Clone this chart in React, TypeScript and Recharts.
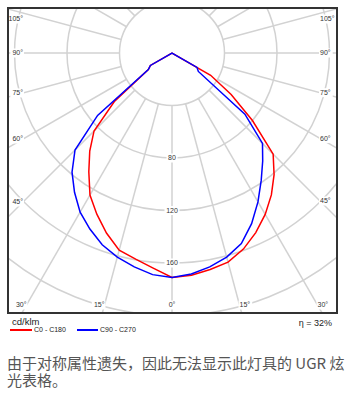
import React from "react";
import { RadarChart, Radar, PolarGrid, PolarAngleAxis, PolarRadiusAxis } from "recharts";

// luminous intensity in cd/klm, gamma 0° (down) .. 180° (up), 5° steps
const gammaAngles = [0, 5, 10, 15, 20, 25, 30, 35, 40, 45, 50, 55, 60, 65, 70, 75, 80, 85, 90, 95, 100, 105, 110, 115, 120, 125, 130, 135, 140, 145, 150, 155, 160, 165, 170, 175, 180];
const c0 = [171, 170, 167.5, 165, 159, 151, 142, 132, 121, 109, 80, 55, 34, 0, 0, 0, 0, 0, 0, 0, 0, 0, 0, 0, 0, 0, 0, 0, 0, 0, 0, 0, 0, 0, 0, 0, 0];
const c180 = [171, 164.5, 159.5, 155.5, 146, 135.5, 125, 110.5, 97.5, 84, 57, 22, 19, 0, 0, 0, 0, 0, 0, 0, 0, 0, 0, 0, 0, 0, 0, 0, 0, 0, 0, 0, 0, 0, 0, 0, 0];
const c90 = [171, 169, 165.5, 161, 154.5, 143.5, 131, 118.5, 107.5, 97.5, 72.5, 24.5, 22, 0, 0, 0, 0, 0, 0, 0, 0, 0, 0, 0, 0, 0, 0, 0, 0, 0, 0, 0, 0, 0, 0, 0, 0];
const c270 = [171, 169.5, 165.5, 161, 155.5, 148, 140, 129.5, 118.5, 104.5, 74, 22, 19, 0, 0, 0, 0, 0, 0, 0, 0, 0, 0, 0, 0, 0, 0, 0, 0, 0, 0, 0, 0, 0, 0, 0, 0];

// grid: spokes every 15°, rings every 40 cd/klm
const gridAngles = [0, 15, 30, 45, 60, 75, 90, 105, 120, 135, 150, 165, 180, 195, 210, 225, 240, 255, 270, 285, 300, 315, 330, 345];
const radiusLabels = [80, 120, 160];
const maxAngleLabel = 105;

// position around the diagram, counter-clockwise from the bottom:
// right half is C0 / C90, left half is C180 / C270
const positions = gammaAngles.concat(gammaAngles.slice(1, -1).map((g) => 360 - g).reverse());
const data = positions.map((p) => {
  const right = p <= 180;
  const i = gammaAngles.indexOf(right ? p : 360 - p);
  return { p, red: right ? c0[i] : c180[i], blue: right ? c90[i] : c270[i] };
});
const gridData = gridAngles.map((a) => ({ a, base: 40 }));

const W = 327;
const H = 303;
const CX = 163;
const CY = 44;
const R_IN = 52.5;
const R_OUT = 315;

// label frame inside the box
const LBL_LEFT = 14;
const LBL_RIGHT = 311;
const LBL_TOP = 10;
const LBL_BOTTOM = 296;

const tickFont = "'Liberation Sans', Arial, sans-serif";

function AngleTick(props: any) {
  const p = Number(props.payload?.value);
  const g = p <= 180 ? p : 360 - p;
  if (g > maxAngleLabel) return <g />;
  const side = p === 0 ? 0 : p < 180 ? 1 : -1;
  const rad = (g * Math.PI) / 180;
  const s = Math.sin(rad);
  const c = Math.cos(rad);
  let t = Infinity;
  if (side === 1) t = Math.min(t, (LBL_RIGHT - CX) / s);
  if (side === -1) t = Math.min(t, (CX - LBL_LEFT) / s);
  if (c > 0) t = Math.min(t, (LBL_BOTTOM - CY) / c);
  const x = CX + side * s * t;
  const y = Math.max(LBL_TOP, CY + c * t);
  const label = `${g}°`;
  const w = label.length * 3.9 + 2;
  const anchor = side === 0 ? "middle" : side === 1 ? "start" : "end";
  const rx = side === 0 ? x - w / 2 : side === 1 ? x - 1 : x - w + 1;
  return (
    <g>
      <rect x={rx} y={y - 4.5} width={w} height={9} fill="#fff" />
      <text x={x} y={y} dy="0.35em" textAnchor={anchor} fontSize={7} fontFamily={tickFont} fill="#333">
        {label}
      </text>
    </g>
  );
}

function RadiusTick(props: any) {
  const v = props.payload?.value;
  if (!radiusLabels.includes(v)) return <g />;
  const label = String(v);
  const w = label.length * 4 + 3;
  return (
    <g>
      <rect x={props.x - w / 2} y={props.y - 4.5} width={w} height={9} fill="#fff" />
      <text x={props.x} y={props.y} dy="0.35em" textAnchor="middle" fontSize={7} fontFamily={tickFont} fill="#333">
        {label}
      </text>
    </g>
  );
}

export default function App() {
  return (
    <div style={{ position: "absolute", left: 0, top: 0, width: 353, height: 398, background: "#fff" }}>
      <div
        style={{
          position: "absolute",
          left: 7,
          top: 7,
          width: W,
          height: H,
          border: "2px solid #333",
          overflow: "hidden",
          background: "#fff",
        }}
      >
        {/* grid layer */}
        <div style={{ position: "absolute", left: 0, top: 0 }}>
          <RadarChart
            width={W}
            height={H}
            data={gridData}
            cx={CX}
            cy={CY}
            innerRadius={R_IN}
            outerRadius={R_OUT}
            startAngle={-90}
            endAngle={270}
            margin={{ top: 0, right: 0, bottom: 0, left: 0 }}
          >
            <PolarGrid gridType="circle" stroke="#d2d2d2" strokeWidth={1.5} />
            <PolarAngleAxis
              dataKey="a"
              type="number"
              domain={[0, 360]}
              ticks={gridAngles}
              tick={AngleTick}
              axisLine={false}
              tickLine={false}
            />
            <PolarRadiusAxis angle={-90} domain={[40, 240]} tickCount={6} tick={RadiusTick} axisLine={false} tickLine={false} />
            <Radar dataKey="base" stroke="none" fill="none" dot={false} isAnimationActive={false} />
          </RadarChart>
        </div>
        {/* curves layer */}
        <div style={{ position: "absolute", left: 0, top: 0 }}>
          <RadarChart
            width={W}
            height={H}
            data={data}
            cx={CX}
            cy={CY}
            innerRadius={0}
            outerRadius={R_OUT}
            startAngle={-90}
            endAngle={270}
            margin={{ top: 0, right: 0, bottom: 0, left: 0 }}
          >
            <PolarAngleAxis dataKey="p" type="number" domain={[0, 360]} tick={false} axisLine={false} tickLine={false} />
            <PolarRadiusAxis domain={[0, 240]} tick={false} axisLine={false} tickLine={false} />
            <Radar dataKey="red" stroke="#ff0000" strokeWidth={1.5} fill="none" fillOpacity={0} dot={false} isAnimationActive={false} />
            <Radar dataKey="blue" stroke="#0000ff" strokeWidth={1.5} fill="none" fillOpacity={0} dot={false} isAnimationActive={false} />
          </RadarChart>
        </div>
      </div>

      <div style={{ position: "absolute", left: 12, top: 317, fontFamily: tickFont, fontSize: 9.5, lineHeight: "10px", color: "#222" }}>
        cd/klm
      </div>
      <div style={{ position: "absolute", left: 10, top: 329, width: 22, height: 2, background: "#ff0000" }} />
      <div style={{ position: "absolute", left: 34, top: 326, fontFamily: tickFont, fontSize: 7, lineHeight: "8px", color: "#222" }}>
        C0 - C180
      </div>
      <div style={{ position: "absolute", left: 77, top: 329, width: 21, height: 2, background: "#0000ff" }} />
      <div style={{ position: "absolute", left: 100, top: 326, fontFamily: tickFont, fontSize: 7, lineHeight: "8px", color: "#222" }}>
        C90 - C270
      </div>
      <div
        style={{
          position: "absolute",
          right: 21,
          top: 318,
          fontFamily: tickFont,
          fontSize: 9,
          lineHeight: "10px",
          color: "#222",
          whiteSpace: "nowrap",
        }}
      >
        η = 32%
      </div>

      <div
        style={{
          position: "absolute",
          left: 7,
          top: 354,
          width: 344,
          fontFamily: "'Noto Sans CJK SC', sans-serif",
          fontSize: 15,
          lineHeight: "17px",
          color: "#555",
        }}
      >
        由于对称属性遗失，因此无法显示此灯具的 UGR 炫光表格。
      </div>
    </div>
  );
}
